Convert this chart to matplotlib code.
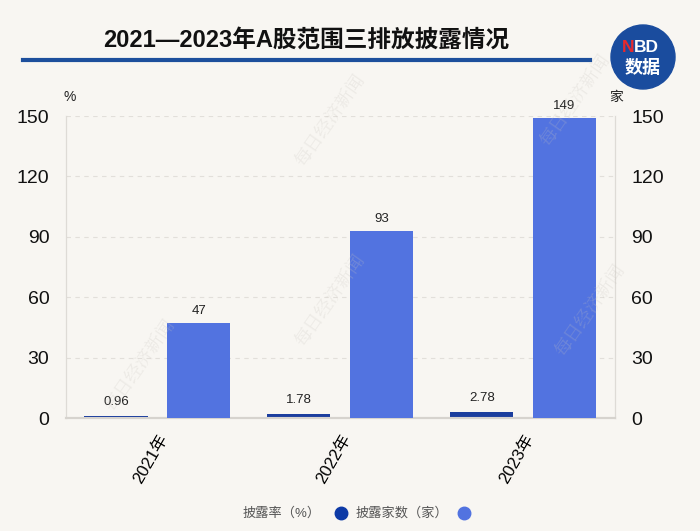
import matplotlib
matplotlib.use("Agg")
import matplotlib.pyplot as plt
from matplotlib.patches import Circle
import numpy as np

plt.rcParams['font.family'] = ['Liberation Sans', 'Noto Sans CJK SC', 'DejaVu Sans']

# data
years = ['2021年', '2022年', '2023年']
rate = [0.96, 1.78, 2.78]        # 披露率（%）
counts = [47, 93, 149]           # 披露家数（家）
yticks = [0, 30, 60, 90, 120, 150]

bg = '#f8f6f2'
dark = '#1b3e9e'
light = '#5273e0'

fig = plt.figure(figsize=(7, 5.31), dpi=100, facecolor=bg)
ax = fig.add_axes([0.0943, 0.2128, 0.784, 0.5687])
ax.set_facecolor(bg)
ax2 = ax.twinx()

x = np.arange(len(years))
w = 0.345
ax.bar(x - 0.227, rate, width=w, color=dark, zorder=3)
ax2.bar(x + 0.225, counts, width=w, color=light, zorder=3)

for a in (ax, ax2):
    a.set_ylim(0, 150)
    a.set_yticks(yticks)
    a.tick_params(axis='y', length=0, labelsize=14, pad=12, labelcolor='#111111')
    a.spines['top'].set_visible(False)
    a.spines['left'].set_color('#dedbd6')
    a.spines['right'].set_color('#dedbd6')
    a.spines['bottom'].set_color('#d6d3ce')
    a.spines['bottom'].set_linewidth(1.5)
ax.set_xlim(-0.5, 2.5)
ax.grid(axis='y', linestyle=(0, (4, 4)), color='#e2dfda', linewidth=0.8, zorder=0)
ax.set_axisbelow(True)

ax.set_xticks(x)
ax.set_xticklabels(years, rotation=60, ha='right', rotation_mode='anchor', fontsize=12)
ax.tick_params(axis='x', length=0, pad=10)

for xi, v in zip(x, rate):
    ax.text(xi - 0.227, v + 4, f'{v:.2f}', ha='center', va='bottom', fontsize=9.5, color='#222222')
for xi, v in zip(x, counts):
    ax2.text(xi + 0.225, v + 3, str(v), ha='center', va='bottom', fontsize=9.5, color='#222222')

fig.text(64 / 700, 1 - 97 / 531, '%', ha='left', va='center', fontsize=10, color='#222222')
fig.text(609 / 700, 1 - 97 / 531, '家', ha='left', va='center', fontsize=10, color='#222222')

# title and rule
fig.text(306 / 700, 1 - 40 / 531, '2021—2023年A股范围三排放披露情况', ha='center', va='center',
         fontsize=17, fontweight='bold', color='#111111')
fig.add_artist(plt.Line2D([23 / 700, 590 / 700], [1 - 60 / 531, 1 - 60 / 531],
                          color='#1d4f9c', linewidth=3, transform=fig.transFigure))

# logo
fig.add_artist(Circle((643, 531 - 57), 32, color='#1a4c9e', transform=None))
fig.text(634 / 700, 1 - 47 / 531, 'N', ha='right', va='center', fontsize=12.5, fontweight='bold',
         color='#e8292c')
fig.text(634 / 700, 1 - 47 / 531, 'BD', ha='left', va='center', fontsize=12.5, fontweight='bold',
         color='white')
fig.text(643 / 700, 1 - 68 / 531, '数据', ha='center', va='center', fontsize=13, fontweight='bold',
         color='white')

# watermarks
for wx, wy in [(330, 120), (140, 365), (330, 300), (575, 100), (590, 310)]:
    fig.text(wx / 700, 1 - wy / 531, '每日经济新闻', ha='center', va='center', rotation=55,
             fontsize=13, color='#c8c4be', alpha=0.25, family=['Noto Serif CJK SC', 'Noto Sans CJK SC'])

# legend
ly = 1 - 513 / 531
fig.text(321 / 700, ly, '披露率（%）', ha='right', va='center', fontsize=9.5, color='#555555')
fig.add_artist(plt.Line2D([341 / 700], [ly], marker='o', markersize=9, color='#0d3aa6',
                          linestyle='none', transform=fig.transFigure))
fig.text(448 / 700, ly, '披露家数（家）', ha='right', va='center', fontsize=9.5, color='#555555')
fig.add_artist(plt.Line2D([464 / 700], [ly], marker='o', markersize=9, color=light,
                          linestyle='none', transform=fig.transFigure))

fig.savefig('out.png', dpi=100, facecolor=bg)
